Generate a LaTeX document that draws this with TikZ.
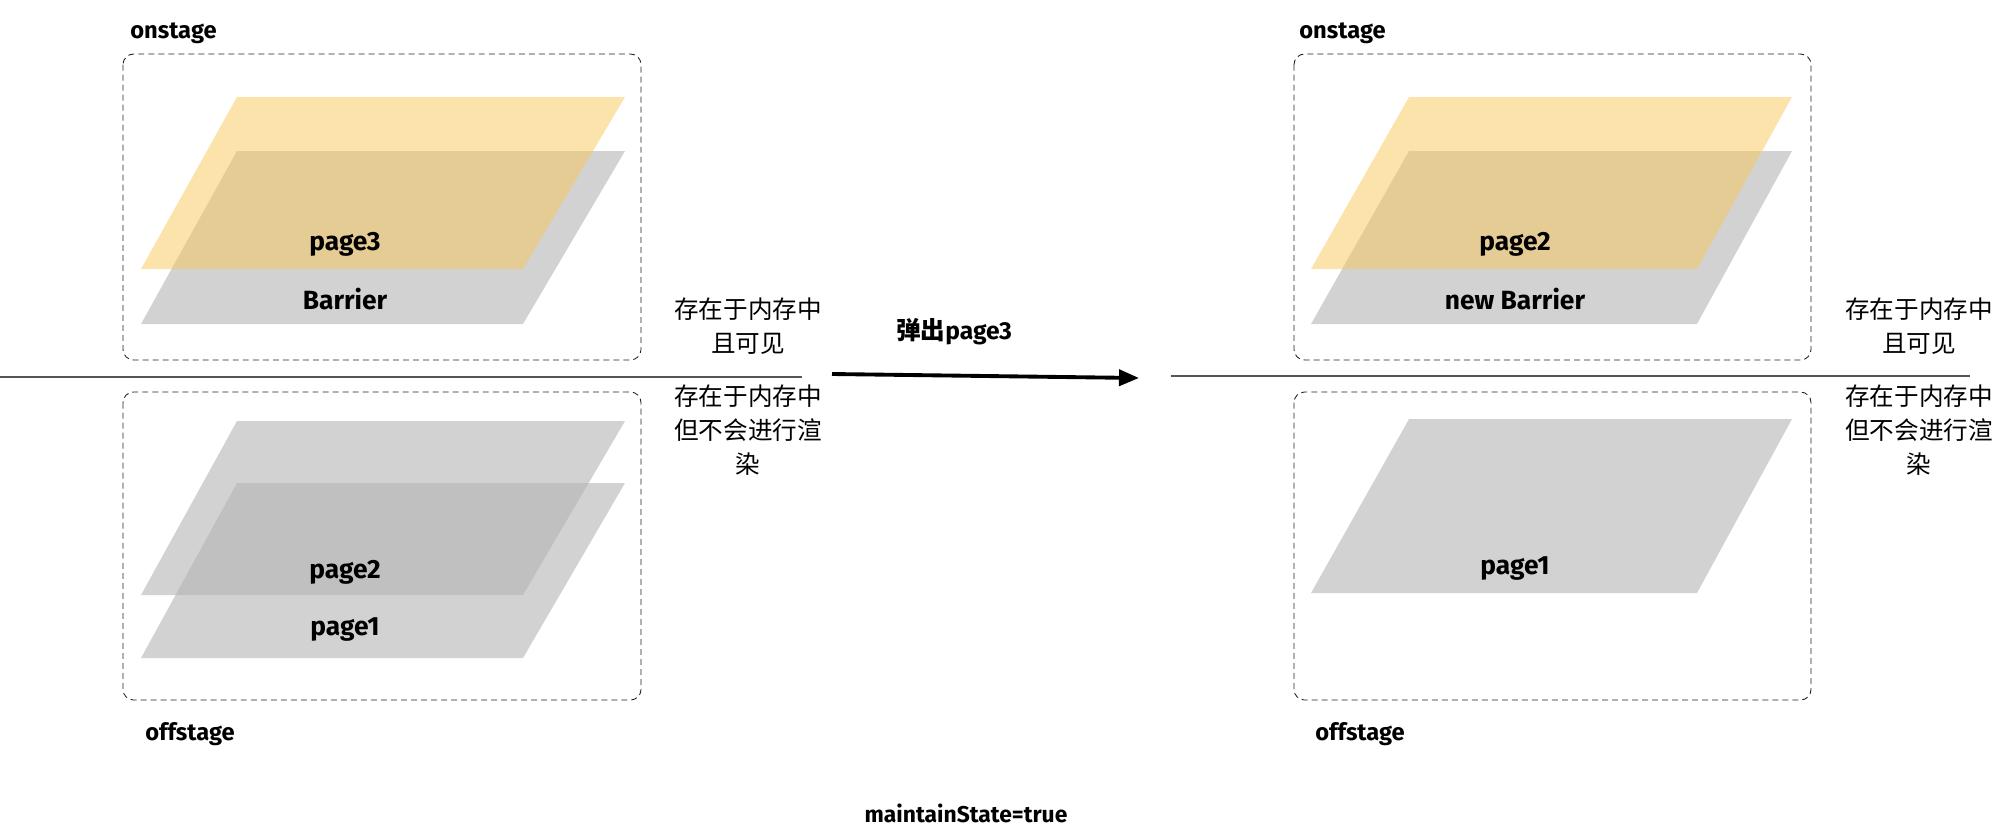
\documentclass[tikz,border=0pt]{standalone}
\usepackage{fontspec}
\setmainfont{Fira Sans}
\newfontfamily\cjk{Noto Sans CJK SC}
\usepackage{tikz}
\usetikzlibrary{arrows.meta}
\definecolor{pageyellow}{RGB}{249,199,89}
\definecolor{pagegray}{RGB}{180,180,180}
\definecolor{stageline}{HTML}{222222}
\definecolor{sepline}{HTML}{555555}

\begin{document}
\begin{tikzpicture}[
  x=0.02cm,y=-0.02cm,
  stagebox/.style={draw=stageline,dash pattern=on 3.4pt off 2.3pt,rounded corners=6pt,line width=0.5pt},
  yellowpage/.style={fill=pageyellow,fill opacity=0.5},
  graypage/.style={fill=pagegray,fill opacity=0.6},
  stagelbl/.style={anchor=west,inner sep=0pt,font=\bfseries\fontsize{13.5}{16}\selectfont},
  pagelbl/.style={inner sep=0pt,font=\bfseries\fontsize{15}{18}\selectfont},
  note/.style={align=center,inner sep=0pt,font=\cjk\fontsize{14}{19.5}\selectfont},
  sep/.style={draw=sepline,line width=0.8pt},
  arr/.style={-{Triangle[length=0.4cm,width=0.32cm]},line width=2.2pt,black}
]
\useasboundingbox (0,0) rectangle (2011,839);

% left: before pop
\node[stagelbl] (onl) at (130,33) {onstage};
\draw[stagebox] (123,54) rectangle (641,360);
\fill[graypage] (237,151) -- (625,151) -- (523,324) -- (141,324) -- cycle;
\fill[yellowpage] (237,97) -- (625,97) -- (523,269) -- (141,269) -- cycle;
\node[pagelbl] (p3) at (345,244) {page3};
\node[pagelbl] (bar) at (345,299) {Barrier};

\draw[sep] (0,377) -- (802,377);

\draw[stagebox] (123,392) rectangle (641,700);
\fill[graypage] (237,421) -- (625,421) -- (523,595) -- (141,595) -- cycle;
\fill[graypage] (237,483) -- (625,483) -- (523,658) -- (141,658) -- cycle;
\node[pagelbl] (p2) at (345,572) {page2};
\node[pagelbl] (p1) at (345,630) {page1};
\node[stagelbl] (offl) at (145,734) {offstage};

\node[note] (visl) at (748,326) {存在于内存中\\且可见};
\node[note] (hidl) at (748,430) {存在于内存中\\但不会进行渲\\染};

% pop
\coordinate (popstart) at (832,374);
\coordinate (popend) at (1139,378);
\draw[arr] (popstart) -- (popend);
\node[inner sep=0pt,font=\bfseries\fontsize{14}{16}\selectfont] (pop) at (954,332) {{\cjk 弹出}page3};

% right: after pop
\node[stagelbl] (onr) at (1299,33) {onstage};
\draw[stagebox] (1294,54) rectangle (1811,360);
\fill[graypage] (1409,151) -- (1792,151) -- (1697,324) -- (1311,324) -- cycle;
\fill[yellowpage] (1409,97) -- (1792,97) -- (1697,269) -- (1311,269) -- cycle;
\node[pagelbl] (p2r) at (1515,244) {page2};
\node[pagelbl] (nbar) at (1515,299) {new Barrier};

\draw[sep] (1171,376) -- (1970,376);

\draw[stagebox] (1294,392) rectangle (1811,700);
\fill[graypage] (1409,419) -- (1792,419) -- (1697,593) -- (1311,593) -- cycle;
\node[pagelbl] (p1r) at (1515,569) {page1};
\node[stagelbl] (offr) at (1315,734) {offstage};

\node[note] (visr) at (1919,326) {存在于内存中\\且可见};
\node[note] (hidr) at (1919,430) {存在于内存中\\但不会进行渲\\染};

\node[inner sep=0pt,font=\bfseries\fontsize{13}{16}\selectfont] (state) at (966,813) {maintainState=true};
\end{tikzpicture}
\end{document}
